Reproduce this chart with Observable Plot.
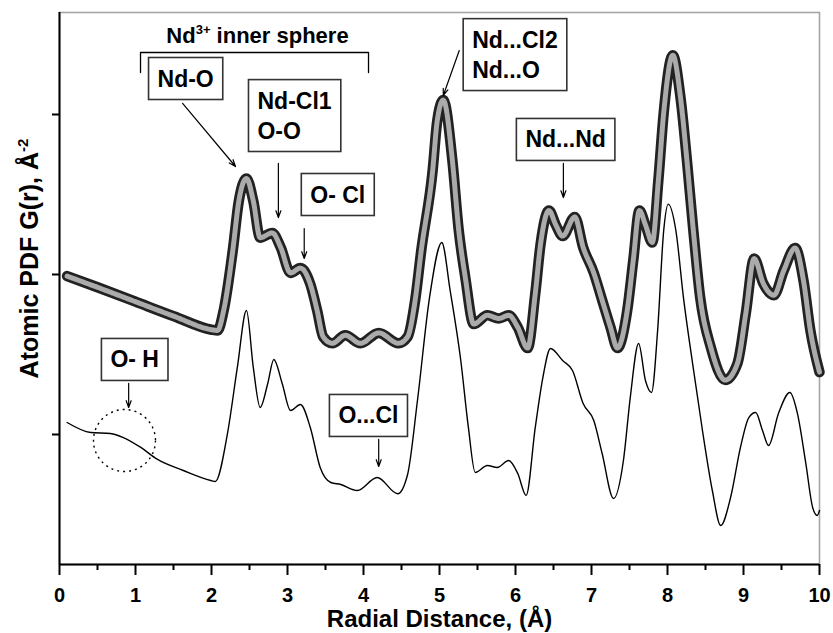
<!DOCTYPE html>
<html>
<head>
<meta charset="utf-8">
<script src="https://cdn.jsdelivr.net/npm/d3@7"></script>
<script src="https://cdn.jsdelivr.net/npm/@observablehq/plot@0.6"></script>
<style>
  body { margin: 0; background: white; }
  svg { display: block; }
</style>
</head>
<body>
<script>
// Atomic pair distribution function of the Nd chloride solution.
// Upper series: measured G(r) (drawn as a ringed band); lower series: model G(r).
const upperR = [0.10, 0.50, 1.00, 1.50, 2.00, 2.08, 2.16, 2.28, 2.36, 2.46, 2.55, 2.64, 2.80, 2.91, 3.04, 3.17, 3.30, 3.39, 3.47, 3.59, 3.76, 3.96, 4.20, 4.46, 4.58, 4.68, 4.76, 4.91, 4.97, 5.05, 5.17, 5.25, 5.34, 5.45, 5.63, 5.78, 5.91, 6.03, 6.16, 6.26, 6.33, 6.44, 6.53, 6.62, 6.78, 6.89, 7.03, 7.14, 7.25, 7.34, 7.47, 7.55, 7.63, 7.71, 7.80, 7.88, 7.95, 8.07, 8.17, 8.26, 8.34, 8.43, 8.57, 8.76, 8.92, 9.03, 9.14, 9.26, 9.40, 9.53, 9.68, 9.79, 9.88, 10.00];
const upperG = [0.99, 0.92, 0.83, 0.74, 0.655, 0.65, 0.775, 1.15, 1.46, 1.60, 1.46, 1.23, 1.26, 1.17, 1.01, 1.04, 0.94, 0.775, 0.61, 0.57, 0.62, 0.57, 0.635, 0.57, 0.61, 0.84, 1.15, 1.65, 1.96, 2.09, 1.71, 1.29, 0.98, 0.69, 0.745, 0.725, 0.745, 0.67, 0.54, 0.88, 1.19, 1.40, 1.31, 1.24, 1.36, 1.17, 1.01, 0.84, 0.67, 0.54, 0.775, 1.09, 1.40, 1.31, 1.20, 1.59, 2.01, 2.37, 2.11, 1.69, 1.275, 0.856, 0.544, 0.34, 0.444, 0.756, 1.10, 0.944, 0.87, 1.025, 1.165, 0.96, 0.65, 0.39];

const lowerR = [0.10, 0.41, 0.67, 0.84, 1.07, 1.29, 1.63, 1.99, 2.05, 2.21, 2.34, 2.46, 2.55, 2.64, 2.74, 2.82, 2.93, 3.04, 3.17, 3.30, 3.43, 3.57, 3.70, 3.92, 4.18, 4.45, 4.58, 4.71, 4.87, 5.03, 5.14, 5.28, 5.38, 5.47, 5.63, 5.76, 5.91, 6.03, 6.14, 6.26, 6.36, 6.46, 6.62, 6.75, 6.89, 7.03, 7.14, 7.29, 7.42, 7.51, 7.62, 7.71, 7.79, 7.87, 7.95, 8.01, 8.11, 8.21, 8.33, 8.46, 8.59, 8.70, 8.83, 8.96, 9.07, 9.16, 9.25, 9.33, 9.46, 9.61, 9.71, 9.82, 9.91, 9.97, 10.00];
const lowerG = [0.075, 0.0125, 0.006, -0.019, -0.081, -0.156, -0.225, -0.2875, -0.294, 0.006, 0.419, 0.775, 0.419, 0.169, 0.319, 0.469, 0.319, 0.15, 0.1875, 0.044, -0.206, -0.30, -0.3125, -0.35, -0.269, -0.37, -0.25, 0.2125, 0.86, 1.20, 0.90, 0.4625, 0.044, -0.2375, -0.194, -0.206, -0.1625, -0.244, -0.381, 0.044, 0.356, 0.5375, 0.4625, 0.40, 0.194, 0.0875, -0.119, -0.40, -0.1625, 0.231, 0.569, 0.3375, 0.2625, 0.65, 1.275, 1.44, 1.275, 0.856, 0.444, 0.025, -0.35, -0.569, -0.394, -0.081, 0.106, 0.1375, 0.025, -0.069, 0.131, 0.2625, 0.131, -0.181, -0.456, -0.506, -0.475];

// Axis ticks
const xMajorTicks = [0, 1, 2, 3, 4, 5, 6, 7, 8, 9, 10];
const xMinorTicks = [0.5, 1.5, 2.5, 3.5, 4.5, 5.5, 6.5, 7.5, 8.5, 9.5];
const yTicks = [0, 1, 2];

// Peak assignments: boxed label, anchored at the baseline of its last line
const noteLabels = ["Nd-O", "Nd-Cl1\nO-O", "O- Cl", "Nd...Cl2\nNd...O", "Nd...Nd", "O- H", "O...Cl"];
const noteR = [1.29, 2.605, 3.30, 5.43, 6.13, 0.67, 3.67];
const noteG = [2.175, 1.85, 1.45, 2.231, 1.794, 0.419, 0.069];

// Arrows from each label to its peak
const arrowR1 = [1.62, 2.88, 3.22, 5.26, 6.63, 0.91, 4.20];
const arrowG1 = [2.069, 1.694, 1.2875, 2.40, 1.694, 0.319, -0.031];
const arrowR2 = [2.316, 2.88, 3.22, 5.05, 6.63, 0.91, 4.20];
const arrowG2 = [1.675, 1.356, 1.10, 2.119, 1.481, 0.169, -0.20];

// Inner coordination sphere bracket
const sphereR = [1.066, 1.066, 4.066, 4.066];
const sphereG = [2.2625, 2.3875, 2.3875, 2.2625];
const sphereLabel = "Nd3+ inner sphere";

// O-H shoulder marked by a dotted circle
const ohR = [0.855];
const ohG = [-0.0375];

const upper = upperR.map((r, i) => ({r, g: upperG[i]}));
const lower = lowerR.map((r, i) => ({r, g: lowerG[i]}));
const notes = noteLabels.map((label, i) => ({label, r: noteR[i], g: noteG[i]}));
const arrows = arrowR1.map((r, i) => ({r1: r, g1: arrowG1[i], r2: arrowR2[i], g2: arrowG2[i]}));
const bracket = sphereR.map((r, i) => ({r, g: sphereG[i]}));

const FONT = "'Liberation Sans', Arial, Helvetica, sans-serif";

const chart = Plot.plot({
  width: 833,
  height: 633,
  marginLeft: 59,
  marginRight: 14,
  marginTop: 12,
  marginBottom: 69,
  style: {fontFamily: FONT, fontWeight: "bold", color: "black", background: "white"},
  x: {domain: [0, 10]},
  y: {domain: [-0.8125, 2.6375]},
  marks: [
    Plot.frame({stroke: "#a5a5a5", strokeWidth: 1.6}),
    // measured curve: dark outer band with a grey ringed core
    Plot.line(upper, {x: "r", y: "g", curve: "monotone-x", stroke: "#222", strokeWidth: 10.5, strokeLinejoin: "round", strokeLinecap: "round"}),
    Plot.line(upper, {x: "r", y: "g", curve: "monotone-x", stroke: "#ababab", strokeWidth: 5, strokeDasharray: "2 1"}),
    // model curve
    Plot.line(lower, {x: "r", y: "g", curve: "monotone-x", stroke: "black", strokeWidth: 1.4}),
    // axes
    Plot.ruleX([0], {stroke: "black", strokeWidth: 2}),
    Plot.ruleY([-0.8125], {stroke: "black", strokeWidth: 2}),
    Plot.axisX(xMajorTicks, {tickSize: 11, tickPadding: 12, fontSize: 20, strokeWidth: 2, label: null}),
    Plot.axisX(xMinorTicks, {tickSize: 6, tickFormat: () => "", strokeWidth: 2, label: null}),
    Plot.axisY(yTicks, {tickSize: 7, tickFormat: () => "", strokeWidth: 2, label: null}),
    Plot.text(["Radial Distance, (Å)"], {frameAnchor: "bottom", textAnchor: "middle", dy: 62, lineAnchor: "bottom", fontSize: 24, fontWeight: "bold"}),
    Plot.text(["Atomic PDF G(r), Å-2"], {frameAnchor: "left", textAnchor: "middle", rotate: -90, dx: -39, dy: -30, lineAnchor: "top", fontSize: 25, fontWeight: "bold", className: "y-title"}),
    // annotations
    Plot.dot(ohR.map((r, i) => ({r, g: ohG[i]})), {x: "r", y: "g", r: 31, stroke: "black", strokeWidth: 1.4, strokeDasharray: "2 4", fill: "none"}),
    Plot.line(bracket, {x: "r", y: "g", stroke: "black", strokeWidth: 1.3}),
    Plot.text([{r: 2.605, g: 2.45}], {x: "r", y: "g", text: () => sphereLabel, lineAnchor: "bottom", fontSize: 22, fontWeight: "bold", className: "sphere-label"}),
    Plot.arrow(arrows, {x1: "r1", y1: "g1", x2: "r2", y2: "g2", stroke: "black", strokeWidth: 1.2, headLength: 9, headAngle: 40}),
    Plot.text(notes, {x: "r", y: "g", text: "label", textAnchor: "start", lineAnchor: "bottom", lineHeight: 1.3, fontSize: 23, fontWeight: "bold", className: "note-box"})
  ]
});

document.body.append(chart);

// Frame each peak label with a box sized to its text
const SVGNS = "http://www.w3.org/2000/svg";
chart.querySelectorAll("g.note-box text").forEach(t => {
  const b = t.getBBox();
  const rect = document.createElementNS(SVGNS, "rect");
  rect.setAttribute("x", b.x - 9);
  rect.setAttribute("y", b.y - 8);
  rect.setAttribute("width", b.width + 18);
  rect.setAttribute("height", b.height + 16);
  rect.setAttribute("transform", t.getAttribute("transform") || "");
  rect.setAttribute("fill", "white");
  rect.setAttribute("stroke", "#333");
  rect.setAttribute("stroke-width", 1.6);
  t.parentNode.insertBefore(rect, t);
});

// Superscripts: Nd³⁺ and Å⁻²
function superscript(textEl, base, sup, after, supSize, shift) {
  textEl.textContent = base;
  const s = document.createElementNS(SVGNS, "tspan");
  s.setAttribute("font-size", supSize);
  s.setAttribute("dy", -shift);
  s.textContent = sup;
  textEl.appendChild(s);
  if (after) {
    const a = document.createElementNS(SVGNS, "tspan");
    a.setAttribute("dy", shift);
    a.textContent = after;
    textEl.appendChild(a);
  }
}
const sphereText = chart.querySelector("g.sphere-label text");
if (sphereText) superscript(sphereText, "Nd", "3+", " inner sphere", 13, 9);
const yTitle = chart.querySelector("g.y-title text");
if (yTitle) superscript(yTitle, "Atomic PDF G(r), Å", "-2", null, 15, 10);
</script>
</body>
</html>
